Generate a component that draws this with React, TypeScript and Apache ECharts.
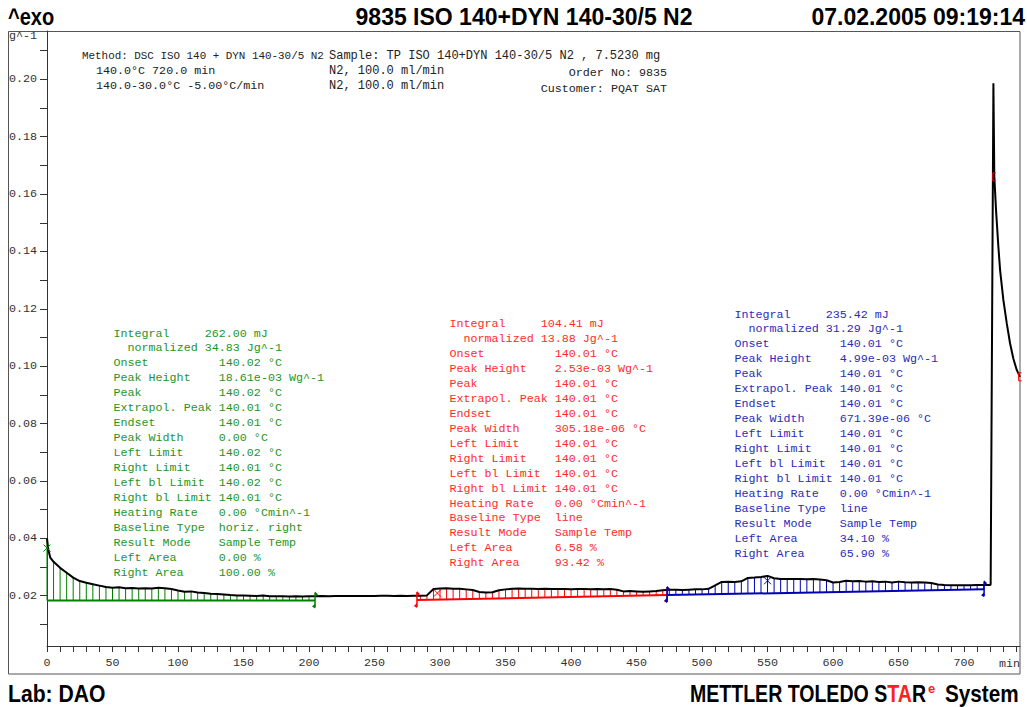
import React, { useEffect, useRef } from 'react';
import * as echarts from 'echarts';

// ---- curve data (time in min, heat flow in W/g) ----
const timeMin = [
  0, 1, 2.5,
  5, 10, 15, 20, 25, 30, 35, 40, 45, 50,
  55, 60, 65, 70, 75, 80, 85, 90, 95, 100,
  105, 110, 115, 120, 125, 130, 135, 140, 145, 150,
  155, 160, 165, 170, 175, 180, 185, 190, 195, 200,
  205, 210, 215, 220, 225, 230, 235, 240, 245, 250,
  255, 260, 265, 270, 275, 280, 285, 290, 295, 300,
  305, 310, 315, 320, 325, 330, 335, 340, 345, 350,
  355, 360, 365, 370, 375, 380, 385, 390, 395, 400,
  405, 410, 415, 420, 425, 430, 435, 440, 445, 450,
  455, 460, 465, 470, 475, 480, 485, 490, 495, 500,
  505, 510, 515, 520, 525, 530, 535, 540, 545, 550,
  555, 560, 565, 570, 575, 580, 585, 590, 595, 600,
  605, 610, 615, 620, 625, 630, 635, 640, 645, 650,
  655, 660, 665, 670, 675, 680, 685, 690, 695, 700,
  705, 710, 715, 720,
  720.3, 722.4, 723.1, 724.4, 726.2, 727.5, 730, 732.6, 735.1, 737.6, 740.2, 742.7,
];
const heatFlow = [
  0.0400, 0.0360, 0.0333,
  0.0318, 0.0297, 0.0280, 0.0263, 0.0251, 0.0245, 0.0240, 0.0235, 0.0230, 0.0228,
  0.0229, 0.0226, 0.0227, 0.0225, 0.0226, 0.0225, 0.0228, 0.0226, 0.0223, 0.0218,
  0.0214, 0.0215, 0.0211, 0.0209, 0.0207, 0.0206, 0.0204, 0.0202, 0.0201, 0.0201,
  0.0200, 0.0199, 0.0201, 0.0198, 0.0198, 0.0198, 0.0197, 0.0198, 0.0197, 0.0198,
  0.0198, 0.0199, 0.0198, 0.0199, 0.0199, 0.0199, 0.0199, 0.0199, 0.0199, 0.0199,
  0.0200, 0.0200, 0.0199, 0.0200, 0.0199, 0.0200, 0.0200, 0.0201, 0.0223, 0.0225,
  0.0226, 0.0224, 0.0224, 0.0222, 0.0220, 0.0213, 0.0211, 0.0212, 0.0219, 0.0222,
  0.0224, 0.0225, 0.0224, 0.0224, 0.0223, 0.0224, 0.0223, 0.0223, 0.0223, 0.0222,
  0.0223, 0.0223, 0.0222, 0.0223, 0.0222, 0.0223, 0.0221, 0.0215, 0.0216, 0.0215,
  0.0214, 0.0215, 0.0216, 0.0219, 0.0221, 0.0221, 0.0220, 0.0221, 0.0222, 0.0222,
  0.0224, 0.0236, 0.0248, 0.0249, 0.0248, 0.0250, 0.0262, 0.0263, 0.0265, 0.0269,
  0.0261, 0.0258, 0.0258, 0.0258, 0.0258, 0.0257, 0.0258, 0.0256, 0.0254, 0.0246,
  0.0248, 0.0252, 0.0250, 0.0251, 0.0249, 0.0250, 0.0248, 0.0249, 0.0246, 0.0249,
  0.0247, 0.0246, 0.0247, 0.0246, 0.0244, 0.0239, 0.0237, 0.0236, 0.0236, 0.0236,
  0.0236, 0.0237, 0.0237, 0.0237,
  0.0240, 0.1986, 0.1660, 0.1544, 0.1416, 0.1335, 0.1231, 0.1149, 0.1080, 0.1027, 0.0987, 0.0963,
];

// ---- integration regions ----
const regionColors = ['#008000', '#ff0000', '#0000b4'];
const regionTextColors = ['#1f951f', '#ff2b2b', '#2b2bb8'];
const regionStart = [0, 282.4, 473.3];
const regionEnd = [204.6, 473.3, 715.3];
const baseStart = [0.0183, 0.0185, 0.0202];
const baseEnd = [0.0183, 0.0202, 0.0222];

// peak markers (x)
const peakMarkT = [0, 298, 550];
const peakMarkV = [0.0366, 0.0209, 0.0252];

// red brackets on the final peak
const bracketT = [722.7, 742.4];
const bracketV = [0.166, 0.0963];

// axis ticks
const xTickValues = Array.from({ length: 75 }, (_, i) => i * 10);
const xLabelValues = [0, 50, 100, 150, 200, 250, 300, 350, 400, 450, 500, 550, 600, 650, 700];
const yTickValues = [0.01, 0.02, 0.03, 0.04, 0.05, 0.06, 0.07, 0.08, 0.09, 0.10, 0.11, 0.12, 0.13, 0.14, 0.15, 0.16, 0.17, 0.18, 0.19, 0.20, 0.21];
const yLabelValues = [0.02, 0.04, 0.06, 0.08, 0.10, 0.12, 0.14, 0.16, 0.18, 0.20];

// ---- result tables ----
const resultLabels = [
  'Integral', 'normalized', 'Onset', 'Peak Height', 'Peak', 'Extrapol. Peak', 'Endset',
  'Peak Width', 'Left Limit', 'Right Limit', 'Left bl Limit', 'Right bl Limit',
  'Heating Rate', 'Baseline Type', 'Result Mode', 'Left Area', 'Right Area',
];
const greenValues = [
  '262.00 mJ', '34.83 Jg^-1', '140.02 °C', '18.61e-03 Wg^-1', '140.02 °C', '140.01 °C', '140.01 °C',
  '0.00 °C', '140.02 °C', '140.01 °C', '140.02 °C', '140.01 °C', '0.00 °Cmin^-1', 'horiz. right',
  'Sample Temp', '0.00 %', '100.00 %',
];
const redValues = [
  '104.41 mJ', '13.88 Jg^-1', '140.01 °C', '2.53e-03 Wg^-1', '140.01 °C', '140.01 °C', '140.01 °C',
  '305.18e-06 °C', '140.01 °C', '140.01 °C', '140.01 °C', '140.01 °C', '0.00 °Cmin^-1', 'line',
  'Sample Temp', '6.58 %', '93.42 %',
];
const blueValues = [
  '235.42 mJ', '31.29 Jg^-1', '140.01 °C', '4.99e-03 Wg^-1', '140.01 °C', '140.01 °C', '140.01 °C',
  '671.39e-06 °C', '140.01 °C', '140.01 °C', '140.01 °C', '140.01 °C', '0.00 °Cmin^-1', 'line',
  'Sample Temp', '34.10 %', '65.90 %',
];

const MONO = '"Liberation Mono", "DejaVu Sans Mono", monospace';
const SANS = '"Liberation Sans", Arial, sans-serif';

export default function App() {
  const ref = useRef<HTMLDivElement>(null);

  useEffect(() => {
    if (!ref.current) return;
    const chart = echarts.init(ref.current, null, { renderer: 'svg' });

    const curve = timeMin.map((t, i) => [t, heatFlow[i]]);

    // hatch lines from baseline to curve at every 5-min sample
    const hatchData: number[][] = [];
    for (let r = 0; r < 3; r++) {
      timeMin.forEach((t, i) => {
        if (t % 5 !== 0) return;
        if (t < regionStart[r] || t > regionEnd[r]) return;
        const f = (t - regionStart[r]) / (regionEnd[r] - regionStart[r]);
        const b = baseStart[r] + (baseEnd[r] - baseStart[r]) * f;
        hatchData.push([t, b, heatFlow[i], r]);
      });
    }

    const limitData: number[][] = [
      [regionEnd[0], baseEnd[0], 0],
      [regionStart[1], baseStart[1], 1],
      [regionEnd[1], baseEnd[1], 1],
      [regionStart[2], baseStart[2], 2],
      [regionEnd[2], baseEnd[2], 2],
    ];

    const graphics: any[] = [];
    graphics.push({
      type: 'rect', silent: true,
      shape: { x: 8.5, y: 31.5, width: 1011.5, height: 642.5 },
      style: { fill: 'none', stroke: '#555', lineWidth: 1 },
    });
    // titles
    graphics.push({ type: 'text', x: 8, y: 17, scaleX: 0.87, style: { text: '^exo', font: `bold 23px ${SANS}`, fill: '#000', align: 'left', verticalAlign: 'middle' } });
    graphics.push({ type: 'text', x: 524, y: 17, style: { text: '9835 ISO 140+DYN 140-30/5 N2', font: `bold 23px ${SANS}`, fill: '#000', align: 'center', verticalAlign: 'middle' } });
    graphics.push({ type: 'text', x: 1025, y: 17, style: { text: '07.02.2005 09:19:14', font: `bold 23px ${SANS}`, fill: '#000', align: 'right', verticalAlign: 'middle' } });
    graphics.push({ type: 'text', x: 8, y: 694, scaleX: 0.92, style: { text: 'Lab: DAO', font: `bold 23px ${SANS}`, fill: '#000', align: 'left', verticalAlign: 'middle' } });
    graphics.push({
      type: 'text', x: 690, y: 694, scaleX: 0.85,
      style: {
        text: '{b|METTLER TOLEDO S}{r|TA}{b|R}',
        font: `bold 23px ${SANS}`, align: 'left', verticalAlign: 'middle',
        rich: {
          b: { font: `bold 23px ${SANS}`, fill: '#000' },
          r: { font: `bold 23px ${SANS}`, fill: '#ff2020' },
        },
      },
    });
    graphics.push({ type: 'text', x: 928, y: 688, style: { text: 'e', font: `bold 13px ${SANS}`, fill: '#ff2020', align: 'left', verticalAlign: 'middle' } });
    graphics.push({ type: 'text', x: 945, y: 694, scaleX: 0.9, style: { text: 'System', font: `bold 23px ${SANS}`, fill: '#000', align: 'left', verticalAlign: 'middle' } });
    // y unit
    graphics.push({ type: 'text', x: 9, y: 36, style: { text: 'g^-1', font: `11.7px ${MONO}`, fill: '#333', align: 'left', verticalAlign: 'middle' } });
    graphics.push({ type: 'text', x: 1020, y: 664, style: { text: 'min', font: `11.7px ${MONO}`, fill: '#333', align: 'right', verticalAlign: 'middle' } });
    // method header
    const hdr = (text: string, x: number, y: number, align = 'left', size = 11.7) =>
      graphics.push({ type: 'text', x, y, style: { text, font: `${size}px ${MONO}`, fill: '#222', align, verticalAlign: 'middle' } });
    hdr('Method: DSC ISO 140 + DYN 140-30/5 N2', 82, 56, 'left', 10.9);
    hdr('Sample: TP ISO 140+DYN 140-30/5 N2 , 7.5230 mg', 329, 56, 'left', 12);
    hdr('140.0°C 720.0 min', 96, 71);
    hdr('N2, 100.0 ml/min', 329, 71, 'left', 12);
    hdr('140.0-30.0°C -5.00°C/min', 96, 86);
    hdr('N2, 100.0 ml/min', 329, 86, 'left', 12);
    hdr('Order No: 9835', 667, 73, 'right');
    hdr('Customer: PQAT SAT', 667, 89, 'right');

    // result tables
    const cw = 7.02;
    const blocks = [
      { x: 113.5, y: 333.5, vals: greenValues, color: regionTextColors[0] },
      { x: 449.5, y: 324, vals: redValues, color: regionTextColors[1] },
      { x: 734.5, y: 314.5, vals: blueValues, color: regionTextColors[2] },
    ];
    blocks.forEach((b) => {
      resultLabels.forEach((lab, i) => {
        const y = b.y + i * 14.96;
        graphics.push({ type: 'text', x: b.x + (i === 1 ? 2 * cw : 0), y, style: { text: lab, font: `11.7px ${MONO}`, fill: b.color, align: 'left', verticalAlign: 'middle' } });
        graphics.push({ type: 'text', x: b.x + (i < 2 ? 13 : 15) * cw, y, style: { text: b.vals[i], font: `11.7px ${MONO}`, fill: b.color, align: 'left', verticalAlign: 'middle' } });
      });
    });

    const series: any[] = [];
    series.push({
      type: 'custom', name: 'hatch', data: hatchData, encode: { x: 0, y: [1, 2] }, z: 2, silent: true,
      renderItem: (_p: any, api: any) => {
        const a = api.coord([api.value(0), api.value(1)]);
        const b = api.coord([api.value(0), api.value(2)]);
        return { type: 'line', shape: { x1: a[0], y1: a[1], x2: b[0], y2: b[1] }, style: { stroke: regionColors[api.value(3)], lineWidth: 1 } };
      },
    });
    for (let r = 0; r < 3; r++) {
      series.push({
        type: 'line', data: [[regionStart[r], baseStart[r]], [regionEnd[r], baseEnd[r]]],
        symbol: 'none', lineStyle: { color: regionColors[r], width: 2 }, z: 3, silent: true,
      });
    }
    series.push({
      type: 'line', name: 'heat flow', data: curve, symbol: 'none',
      lineStyle: { color: '#000', width: 2 }, z: 5, silent: true,
    });
    series.push({
      type: 'custom', name: 'limits', data: limitData, z: 6, silent: true,
      renderItem: (_p: any, api: any) => {
        const p = api.coord([api.value(0), api.value(1)]);
        const c = regionColors[api.value(2)];
        return {
          type: 'group', children: [
            { type: 'line', shape: { x1: p[0], y1: p[1] - 8, x2: p[0], y2: p[1] + 7 }, style: { stroke: c, lineWidth: 1.5 } },
            { type: 'polygon', shape: { points: [[p[0], p[1] - 9], [p[0] + 3, p[1] - 6], [p[0], p[1] - 4]] }, style: { fill: c } },
            { type: 'polygon', shape: { points: [[p[0], p[1] + 3], [p[0] - 3, p[1] + 6], [p[0], p[1] + 8]] }, style: { fill: c } },
          ],
        };
      },
    });
    series.push({
      type: 'custom', name: 'peaks', data: peakMarkT.map((t, i) => [t, peakMarkV[i], i]), z: 6, silent: true,
      renderItem: (_p: any, api: any) => {
        const p = api.coord([api.value(0), api.value(1)]);
        const c = regionColors[api.value(2)];
        const s = 3.5;
        return {
          type: 'group', children: [
            { type: 'line', shape: { x1: p[0] - s, y1: p[1] - s, x2: p[0] + s, y2: p[1] + s }, style: { stroke: c, lineWidth: 1 } },
            { type: 'line', shape: { x1: p[0] - s, y1: p[1] + s, x2: p[0] + s, y2: p[1] - s }, style: { stroke: c, lineWidth: 1 } },
          ],
        };
      },
    });
    series.push({
      type: 'custom', name: 'brackets', data: bracketT.map((t, i) => [t, bracketV[i]]), z: 6, silent: true,
      renderItem: (_p: any, api: any) => {
        const p = api.coord([api.value(0), api.value(1)]);
        return {
          type: 'polyline',
          shape: { points: [[p[0] + 2, p[1] - 4], [p[0] - 1, p[1] - 4], [p[0] - 1, p[1] + 4], [p[0] + 2, p[1] + 4]] },
          style: { stroke: '#ff0000', lineWidth: 1, fill: 'none' },
        };
      },
    });

    chart.setOption({
      animation: false,
      grid: { left: 47, right: 7, top: 31, bottom: 61, containLabel: false },
      xAxis: {
        type: 'value', min: 0, max: 742.7,
        axisLine: { show: true, lineStyle: { color: '#333', width: 1 } },
        axisTick: { show: true, customValues: xTickValues, length: 6, lineStyle: { color: '#333' } },
        axisLabel: { customValues: xLabelValues, fontFamily: MONO, fontSize: 11.7, color: '#333', margin: 11 },
        splitLine: { show: false },
      },
      yAxis: {
        type: 'value', min: 0.00246, max: 0.21685,
        axisLine: { show: true, lineStyle: { color: '#333', width: 1 } },
        axisTick: { show: true, customValues: yTickValues, length: 7, lineStyle: { color: '#333' } },
        axisLabel: { customValues: yLabelValues, formatter: (v: number) => v.toFixed(2), fontFamily: MONO, fontSize: 11.7, color: '#333', margin: 10 },
        splitLine: { show: false },
      },
      series,
      graphic: graphics,
    });

    return () => chart.dispose();
  }, []);

  return (
    <div
      ref={ref}
      style={{ position: 'absolute', left: 0, top: 0, width: 1027, height: 707, background: '#fff' }}
    />
  );
}
